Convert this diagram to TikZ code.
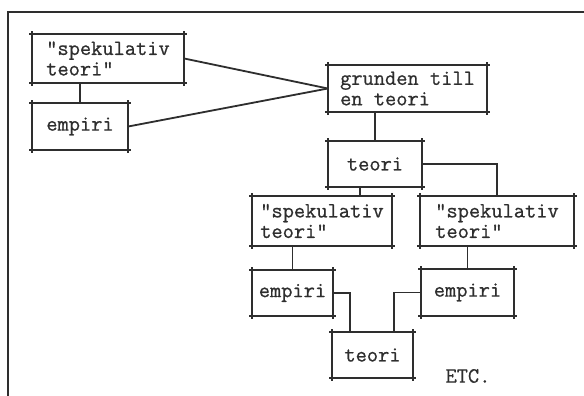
\documentclass[tikz,border=0pt]{standalone}
\usepackage{fontspec}
\setmonofont{Latin Modern Mono}[RawFeature={embolden=0.7}]
\usetikzlibrary{calc}
\definecolor{ink}{HTML}{2E2E2E}
\tikzset{
  tbox/.style={rectangle, draw=none, inner sep=0pt, align=left,
    font=\ttfamily\fontsize{21.8}{20.5}\selectfont, text=ink},
  edge/.style={draw=ink, line width=1.8pt, shorten <=-2.5pt, shorten >=-2.5pt},
  link/.style={draw=ink, line width=1.8pt},
}
% boxes are drawn with their edges running a little past each corner
\newcommand\crossbox[1]{%
  \foreach \p/\q in {north west/north east, north east/south east,
                     south east/south west, south west/north west}
    {\draw[edge] (#1.\p) -- (#1.\q);}}
\begin{document}
\begin{tikzpicture}[x=1pt, y=-1pt]
  \useasboundingbox (0,0) rectangle (584,396);
  \fill[white] (0,0) rectangle (584,396);
  % frame
  \draw[link] (8,396) -- (8,12) -- (584,12);

  \node[tbox, minimum width=152pt, minimum height=49pt] (s1) at (108,58.5) {"spekulativ\\teori"};
  \node[tbox, minimum width=96pt,  minimum height=47pt] (e1) at (80,126.5) {empiri};
  \node[tbox, minimum width=159pt, minimum height=47pt] (g)  at (407.5,88.5) {grunden till\\en teori};
  \node[tbox, minimum width=94pt,  minimum height=46pt] (t1) at (375,164) {teori};
  \node[tbox, minimum width=140pt, minimum height=50pt] (s2) at (322,221) {"spekulativ\\teori"};
  \node[tbox, minimum width=154pt, minimum height=50pt] (s3) at (497,221) {"spekulativ\\teori"};
  \node[tbox, minimum width=81pt,  minimum height=46pt] (e2) at (292.5,293) {empiri};
  \node[tbox, minimum width=93pt,  minimum height=47pt] (e3) at (467.5,292.5) {empiri};
  \node[tbox, minimum width=81pt,  minimum height=46pt] (t2) at (372.5,355) {teori};
  \node[tbox] (etc) at (468,376) {ETC.};

  \foreach \b in {s1,e1,g,t1,s2,s3,e2,e3,t2} {\crossbox{\b}}

  % connectors
  \draw[link] (s1.south -| e1.north) -- (e1.north);
  \draw[link] (s1.east) -- (g.west);
  \draw[link] (e1.east) -- (g.west);
  \draw[link] (g.south -| t1.north) -- (t1.north);
  \draw[link] (t1.east) -| (s3.north);
  \coordinate (t1s) at ($(t1.south west)!0.34!(t1.south east)$);
  \draw[link] (t1s) -- (t1s |- s2.north);
  \draw[link] (s2.south -| e2.north) -- (e2.north);
  \draw[link] (s3.south -| e3.north) -- (e3.north);
  \draw[link] (e2.east) -| ($(t2.north west)!0.22!(t2.north east)$);
  \draw[link] (e3.west) -| ($(t2.north west)!0.765!(t2.north east)$);
\end{tikzpicture}
\end{document}
